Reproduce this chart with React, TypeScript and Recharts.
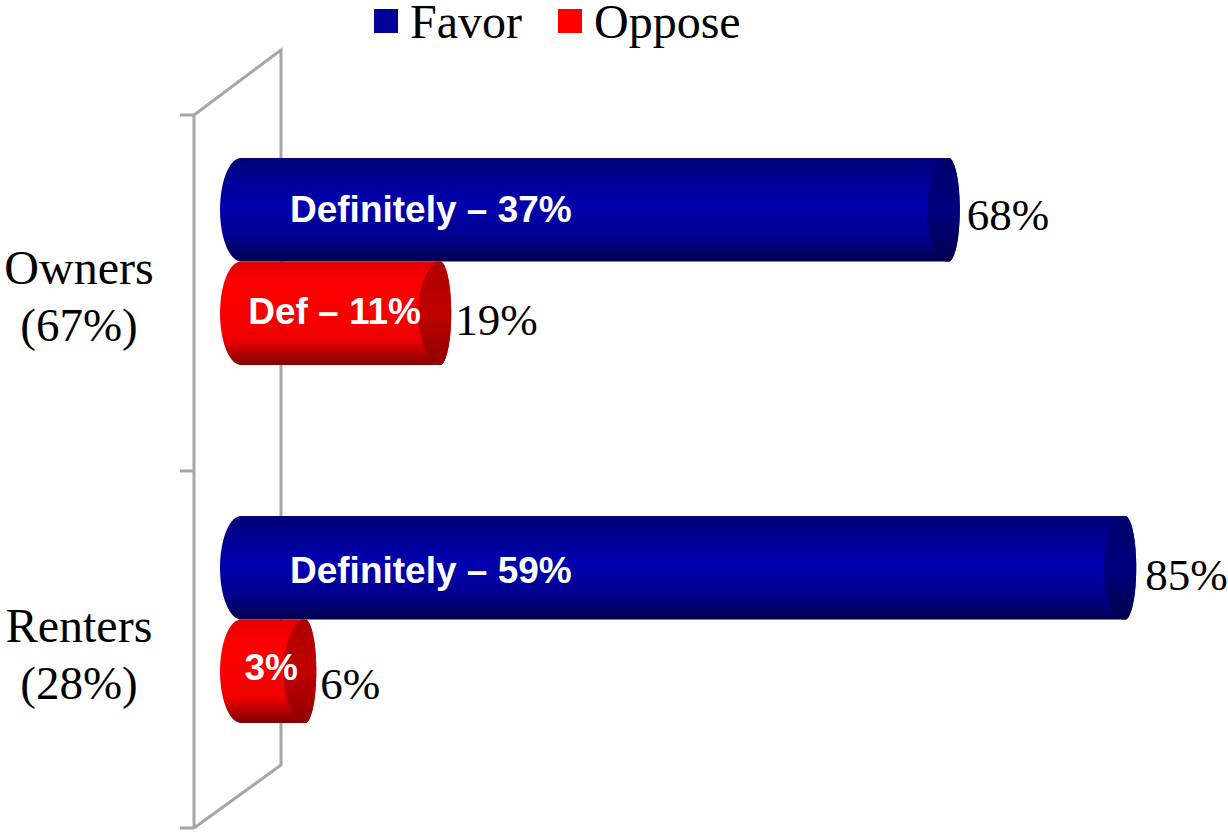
import { Bar, BarChart, LabelList, Legend, XAxis, YAxis } from "recharts"

const categories = ["Owners", "Renters"]
const shares = ["(67%)", "(28%)"]
const favor = [68, 85]
const oppose = [19, 6]
const favorInner = ["Definitely – 37%", "Definitely – 59%"]
const opposeInner = ["Def – 11%", "3%"]

const data = categories.map((name, i) => ({
    name,
    favor: favor[i],
    oppose: oppose[i],
    favorInner: favorInner[i],
    opposeInner: opposeInner[i],
}))

const serif = "'Liberation Serif', serif"
const sans = "'Liberation Sans', sans-serif"
const wall = "#a6a6a6"

function Cylinder(props: any) {
    const { x, y, width, height, bodyFill, capFill } = props
    const x1 = x + width
    const b = y + height
    const m = y + height / 2
    const rightEdge = `C${x1 + 13},${y + height * 0.04} ${x1 + 17},${y + height * 0.25} ${x1 + 17},${m}
        C${x1 + 17},${y + height * 0.75} ${x1 + 13},${y + height * 0.96} ${x1 + 7},${b}`
    const outline = `M${x + 3},${y} L${x1 + 7},${y} ${rightEdge} L${x + 3},${b}
        C${x - 9},${y + height * 0.98} ${x - 17},${y + height * 0.75} ${x - 17},${m} C${x - 17},${y + height * 0.25} ${x - 9},${y + height * 0.02} ${x + 3},${y} Z`
    const cap = `M${x1 + 7},${y} ${rightEdge} L${x1 + 2},${b}
        C${x1 - 10},${y + height * 0.9} ${x1 - 16},${y + height * 0.7} ${x1 - 16},${m} C${x1 - 16},${y + height * 0.3} ${x1 - 10},${y + height * 0.1} ${x1 + 2},${y} Z`
    return (
        <g>
            <path d={outline} fill={bodyFill} />
            <path d={cap} fill={capFill} />
        </g>
    )
}

function CategoryTick({ y, index }: any) {
    return (
        <text textAnchor="middle" fontFamily={serif} fontSize={48} fill="#000">
            <tspan x={79} y={y + 23}>{categories[index]}</tspan>
            <tspan x={79} y={y + 80} fontSize={47}>{shares[index]}</tspan>
        </text>
    )
}

function TotalLabel({ x, y, width, height, value, index, series }: any) {
    // labels are not quite centred on the bars in the original
    const dy = series === "oppose" ? 22 + index * 6 : 20 + index * 2
    const dx = series === "oppose" ? 21 : 24 + index * 2
    return (
        <text x={x + width + dx} y={y + height / 2 + dy} fontFamily={serif} fontSize={45} fill="#000">
            {value}%
        </text>
    )
}

function InnerLabel({ x, y, width, height, value, index, centered }: any) {
    const tx = centered ? x + width / 2 - 1 + index * 4 : x + 53
    const dy = centered ? 11 - index * 2 : 12 + index * 3
    return (
        <text
            x={tx}
            y={y + height / 2 + dy}
            textAnchor={centered ? "middle" : "start"}
            fontFamily={sans}
            fontWeight="bold"
            fontSize={37}
            fill="#fff"
        >
            {value}
        </text>
    )
}

function LegendBox() {
    const items = [
        { label: "Favor", color: "#000099" },
        { label: "Oppose", color: "#ff0000" },
    ]
    return (
        <div style={{ height: 0, overflow: "visible" }}>
            <div style={{ display: "flex", alignItems: "center", gap: 36, fontFamily: serif, fontSize: 48, lineHeight: "42px" }}>
                {items.map((item) => (
                    <div key={item.label} style={{ display: "flex", alignItems: "center", gap: 12 }}>
                        <div style={{ width: 24, height: 24, background: item.color }} />
                        <span style={{ position: "relative", top: 1 }}>{item.label}</span>
                    </div>
                ))}
            </div>
        </div>
    )
}

export default function App() {
    return (
        <div style={{ position: "absolute", left: 0, top: 0, width: 1228, height: 832 }}>
            <BarChart
                width={1228}
                height={832}
                data={data}
                layout="vertical"
                barSize={103.5}
                barGap={0}
                margin={{ top: 82, right: 5, bottom: 34, left: 0 }}
            >
                <defs>
                    <linearGradient id="blueBody" x1="0" y1="0" x2="0" y2="1">
                        <stop offset="0" stopColor="#000078" />
                        <stop offset="0.45" stopColor="#0000b0" />
                        <stop offset="0.75" stopColor="#000090" />
                        <stop offset="1" stopColor="#000050" />
                    </linearGradient>
                    <linearGradient id="blueCap" x1="0" y1="0" x2="0" y2="1">
                        <stop offset="0" stopColor="#00006a" />
                        <stop offset="0.5" stopColor="#000080" />
                        <stop offset="1" stopColor="#00004c" />
                    </linearGradient>
                    <linearGradient id="redBody" x1="0" y1="0" x2="0" y2="1">
                        <stop offset="0" stopColor="#e00000" />
                        <stop offset="0.2" stopColor="#ff0000" />
                        <stop offset="0.75" stopColor="#f00000" />
                        <stop offset="1" stopColor="#800000" />
                    </linearGradient>
                    <linearGradient id="redCap" x1="0" y1="0" x2="0" y2="1">
                        <stop offset="0" stopColor="#b00000" />
                        <stop offset="0.5" stopColor="#c00000" />
                        <stop offset="1" stopColor="#900000" />
                    </linearGradient>
                </defs>
                <g fill="none" stroke={wall} strokeWidth={3}>
                    <path d="M194,828 L194,115 L281,50 L281,765 L194,828" />
                    <path d="M180,115 L194,115 M180,471 L194,471 M180,828 L194,828" />
                </g>
                <XAxis type="number" domain={[0, 95]} hide />
                <YAxis
                    type="category"
                    dataKey="name"
                    width={237}
                    axisLine={false}
                    tickLine={false}
                    interval={0}
                    tick={<CategoryTick />}
                />
                <Legend wrapperStyle={{ top: 0, left: 374, width: "auto" }} content={<LegendBox />} />
                <Bar
                    dataKey="favor"
                    isAnimationActive={false}
                    shape={<Cylinder bodyFill="url(#blueBody)" capFill="url(#blueCap)" />}
                >
                    <LabelList dataKey="favor" content={<TotalLabel series="favor" />} />
                    <LabelList dataKey="favorInner" content={<InnerLabel />} />
                </Bar>
                <Bar
                    dataKey="oppose"
                    isAnimationActive={false}
                    shape={<Cylinder bodyFill="url(#redBody)" capFill="url(#redCap)" />}
                >
                    <LabelList dataKey="oppose" content={<TotalLabel series="oppose" />} />
                    <LabelList dataKey="opposeInner" content={<InnerLabel centered />} />
                </Bar>
            </BarChart>
        </div>
    )
}
